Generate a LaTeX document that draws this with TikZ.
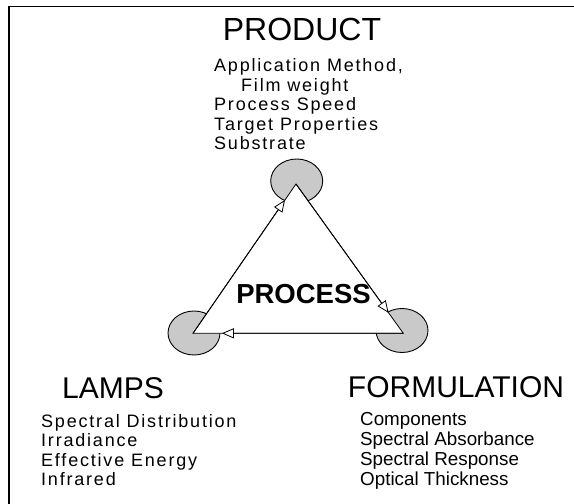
\documentclass[tikz,border=0pt]{standalone}
\usepackage{fontspec}
\setmainfont{Liberation Sans}
\newfontfamily\widefont[LetterSpace=10]{Liberation Sans}
\usetikzlibrary{shapes.geometric,arrows.meta,calc}
\begin{document}
\begin{tikzpicture}[x=1pt,y=-1pt,
  title/.style={anchor=base,inner sep=0pt,font=\fontsize{30}{36}\selectfont},
  witem/.style={anchor=base west,inner sep=0pt,font=\fontsize{18}{22}\selectfont\widefont},
  ritem/.style={anchor=base west,inner sep=0pt,font=\fontsize{18.8}{22}\selectfont},
  blob/.style={ellipse,draw=black,line width=0.9pt,fill=gray!42,minimum width=52pt,minimum height=44pt,inner sep=0pt},
  edge/.style={line width=0.8pt},
  arr/.style={line width=0.8pt,-{Triangle[open,fill=white,length=12pt,width=10pt]}}
]
\useasboundingbox (0,0) rectangle (574,504);
\draw[line width=1.6pt] (9,510) -- (9,6.5) -- (580,6.5);
% circles
\node[blob] (T) at (296.7,181) {};
\node[blob] (L) at (194,333) {};
\node[blob] (R) at (402,330.5) {};
% vertices
\coordinate (Tv) at (296,184);
\coordinate (Lv) at (193,333.3);
\coordinate (Rv) at (403.3,333.3);
\draw[edge,line join=miter,fill=white] (Lv) -- (Tv) -- (Rv) -- cycle;
\draw[arr] (Lv) -- ($(Lv)!0.893!(Tv)$);
\draw[arr] (Tv) -- ($(Tv)!0.863!(Rv)$);
\draw[arr] (Rv) -- ($(Rv)!0.863!(Lv)$);
\node[anchor=center,inner sep=0pt,font=\fontsize{27.5}{30}\selectfont\bfseries] (P) at (303.5,294.5) {PROCESS};
% titles
\node[title,font=\fontsize{32}{38}\selectfont] (prod) at (302,40) {PRODUCT};
\node[title] (lamps) at (113,398) {LAMPS};
\node[title] (form) at (456,397) {FORMULATION};
% product list
\node[witem] (p1) at (214,71.7) {Application Method,};
\node[witem] (p2) at (241,91.2) {Film weight};
\node[witem] (p3) at (214,110.7) {Process Speed};
\node[witem] (p4) at (214,130.2) {Target Properties};
\node[witem] (p5) at (214,149.7) {Substrate};
% lamps list
\node[witem] (l1) at (41,427.5) {Spectral Distribution};
\node[witem] (l2) at (41,446.7) {Irradiance};
\node[witem] (l3) at (41,466) {Effective Energy};
\node[witem] (l4) at (41,485.2) {Infrared};
% formulation list
\node[ritem] (f1) at (360,425) {Components};
\node[ritem] (f2) at (360,445.5) {Spectral Absorbance};
\node[ritem] (f3) at (360,465.5) {Spectral Response};
\node[ritem] (f4) at (360,485.5) {Optical Thickness};
\end{tikzpicture}
\end{document}
